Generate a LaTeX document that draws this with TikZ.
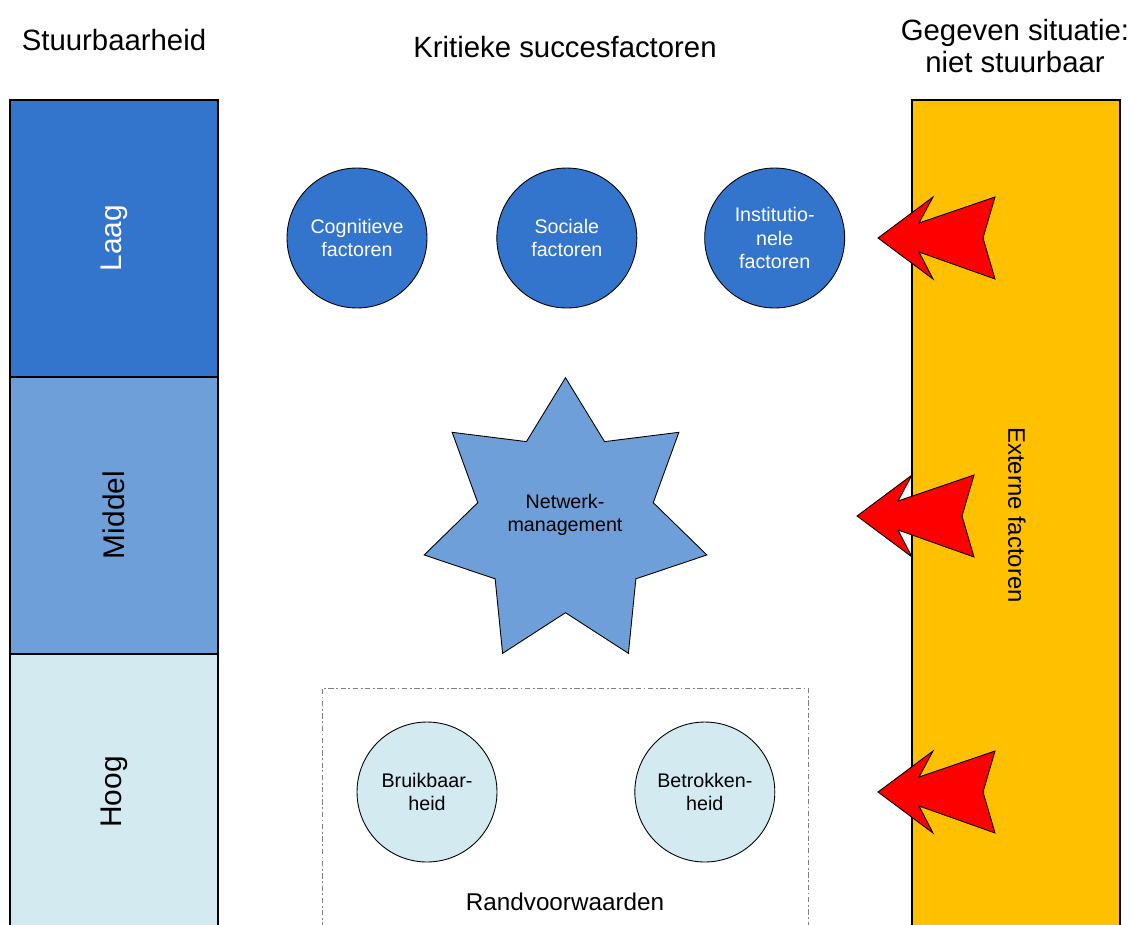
\documentclass[tikz,border=0pt]{standalone}
\usepackage{fontspec}
\setmainfont{Liberation Sans}
\usetikzlibrary{positioning}

\definecolor{laagblue}{RGB}{51,116,204}
\definecolor{middelblue}{RGB}{111,159,216}
\definecolor{hooglight}{RGB}{210,234,240}
\definecolor{extorange}{RGB}{255,192,0}

\begin{document}
\begin{tikzpicture}[
  x=0.02cm, y=-0.02cm,
  band/.style={draw, line width=0.6pt},
  factor/.style={circle, draw, line width=0.5pt, minimum size=2.8cm, inner sep=0pt, align=center, font=\fontsize{11.2}{13.3}\selectfont},
  title/.style={align=center, font=\fontsize{16.7}{18.7}\selectfont},
  level/.style={rotate=90, font=\fontsize{17}{20}\selectfont},
  redarrow/.pic={\filldraw[fill=red, draw=black, line width=0.5pt, line join=miter] (0,0) -- (55,-41) -- (41,-15) -- (117,-41) -- (105,0) -- (117,41) -- (41,14) -- (55,41) -- cycle;}
]
  \useasboundingbox (0,0) rectangle (1133,924);
  \clip (0,0) rectangle (1133,924);

  % titles
  \node[title] (stuur) at (114,40) {Stuurbaarheid};
  \node[title] (ksf) at (565,47) {Kritieke succesfactoren};
  \node[title] (gegeven) at (1015,46) {Gegeven situatie:\\niet stuurbaar};

  % left bar
  \filldraw[band, fill=laagblue] (10,100) rectangle (218,377);
  \filldraw[band, fill=middelblue] (10,377) rectangle (218,654);
  \filldraw[band, fill=hooglight] (10,654) rectangle (218,940);
  \node[level, text=white] (laag) at (114,238) {Laag};
  \node[level] (middel) at (114,515) {Middel};
  \node[level] (hoog) at (114,792) {Hoog};

  % right bar
  \filldraw[band, fill=extorange] (912,100) rectangle (1120,940);
  \node[rotate=-90, font=\fontsize{13.6}{16}\selectfont] (extern) at (1017,515) {Externe factoren};

  % top row
  \node[factor, fill=laagblue, text=white] (cog) at (357,238) {Cognitieve\\factoren};
  \node[factor, fill=laagblue, text=white, right=1.38cm of cog] (soc) {Sociale\\factoren};
  \node[factor, fill=laagblue, text=white, right=1.34cm of soc] (inst) {Institutio-\\nele\\factoren};

  % star
  \filldraw[fill=middelblue, line width=0.5pt, line join=miter, shift={(565.5,522.7)}]
    (270:145) \foreach \i in {1,...,13} {-- ({270+\i*360/14}:{145-55*mod(\i,2)})} -- cycle;
  \node[align=center, font=\fontsize{11.2}{13.3}\selectfont] (netwerk) at (565,515) {Netwerk-\\management};

  % randvoorwaarden
  \draw[gray, line width=0.5pt, dash pattern=on 3pt off 1.5pt on 1pt off 1.5pt] (322,940) -- (322,688) -- (808,688) -- (808,940);
  \node[factor, fill=hooglight] (bruik) at (427,792) {Bruikbaar-\\heid};
  \node[factor, fill=hooglight, right=2.74cm of bruik] (betrok) {Betrokken-\\heid};
  \node[font=\fontsize{13.8}{16}\selectfont] (rand) at (565,902) {Randvoorwaarden};

  % arrows
  \pic at (878,238) {redarrow};
  \pic at (857,516) {redarrow};
  \pic at (878,792) {redarrow};
\end{tikzpicture}
\end{document}
